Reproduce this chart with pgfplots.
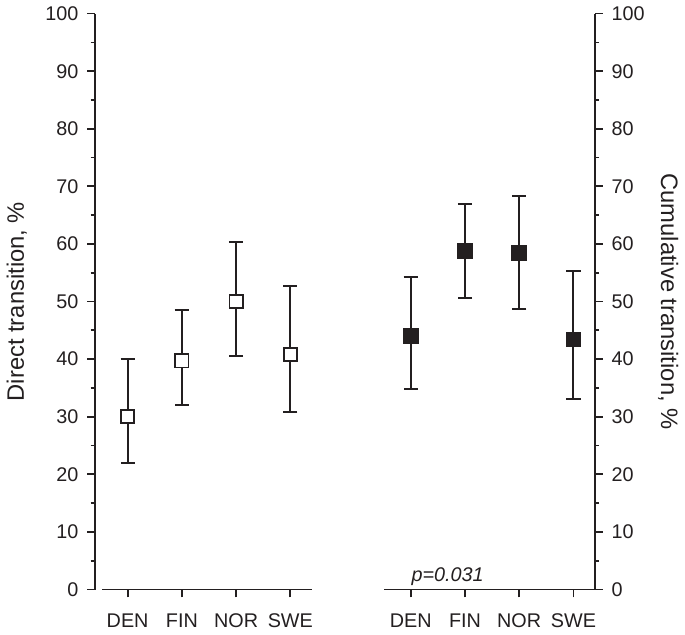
\documentclass[border=0pt]{standalone}
\usepackage{pgfplots}
\pgfplotsset{compat=1.18}
\usepackage{pgfplotstable}
\usepackage{fontspec}
\setmainfont{Liberation Sans}
\definecolor{dark}{HTML}{231F20}

\pgfplotstableread{
x y ep em
1 30.0 10.0 8.0
2 39.7 8.8 7.7
3 50.0 10.3 9.5
4 40.8 11.9 10.0
}\direct
\pgfplotstableread{
x y ep em
6.22 44.0 10.2 9.1
7.22 58.8 8.2 8.1
8.22 58.4 10.0 9.7
9.22 43.4 11.9 10.3
}\cumul

\pgfplotsset{
  common/.style={
    scale only axis, width=252.5pt, height=291pt,
    xmin=0.4, xmax=9.615, ymin=0, ymax=100,
    ytick={0,10,...,100}, minor y tick num=1,
    tick align=outside, major tick length=3.9pt, minor tick length=2.2pt,
    every tick/.style={dark, line width=0.9pt},
    axis line style={dark, line width=0.9pt},
    /pgf/number format/assume math mode=true,
    tick label style={font=\fontsize{10}{12}\selectfont, text=dark},
    label style={font=\fontsize{12}{14}\selectfont, text=dark},
    clip=false,
  }
}

\begin{document}
\begin{tikzpicture}
\begin{axis}[common,
  axis y line*=left, axis x line*=bottom,
  x axis line style={draw=none},
  xtick={1,2,3,4,6.22,7.22,8.22,9.22},
  xticklabels={DEN,FIN,NOR,SWE,DEN,FIN,NOR,SWE},
  xticklabel style={yshift=-5pt},
  yticklabel style={xshift=-1pt},
  ylabel={Direct transition, \%},
  ylabel shift=2.5pt,
]
\draw[dark, line width=0.9pt] (axis cs:0.53,0) -- (axis cs:4.4,0);
\draw[dark, line width=0.9pt] (axis cs:5.73,0) -- (axis cs:9.6,0);
\addplot[only marks, mark=square*, mark size=3.3pt,
  mark options={fill=white, draw=dark, line width=0.9pt},
  error bars/.cd, y dir=both, y explicit,
  error bar style={line width=1pt, dark},
  error mark options={rotate=90, mark size=3.6pt, line width=1pt, dark}]
  table[x=x, y=y, y error plus=ep, y error minus=em] {\direct};
\addplot[only marks, mark=square*, mark size=3.5pt,
  mark options={fill=dark, draw=dark, line width=0.9pt},
  error bars/.cd, y dir=both, y explicit,
  error bar style={line width=1pt, dark},
  error mark options={rotate=90, mark size=3.6pt, line width=1pt, dark}]
  table[x=x, y=y, y error plus=ep, y error minus=em] {\cumul};
\node[font=\fontsize{10}{12}\selectfont\itshape, text=dark] at (axis cs:6.9,2.3) {p=0.031};
\end{axis}
\begin{axis}[common,
  axis y line*=right, axis x line=none,
  yticklabel style={xshift=1pt},
  ylabel={Cumulative transition, \%},
  ylabel style={rotate=180},
]
\end{axis}
\end{tikzpicture}
\end{document}
